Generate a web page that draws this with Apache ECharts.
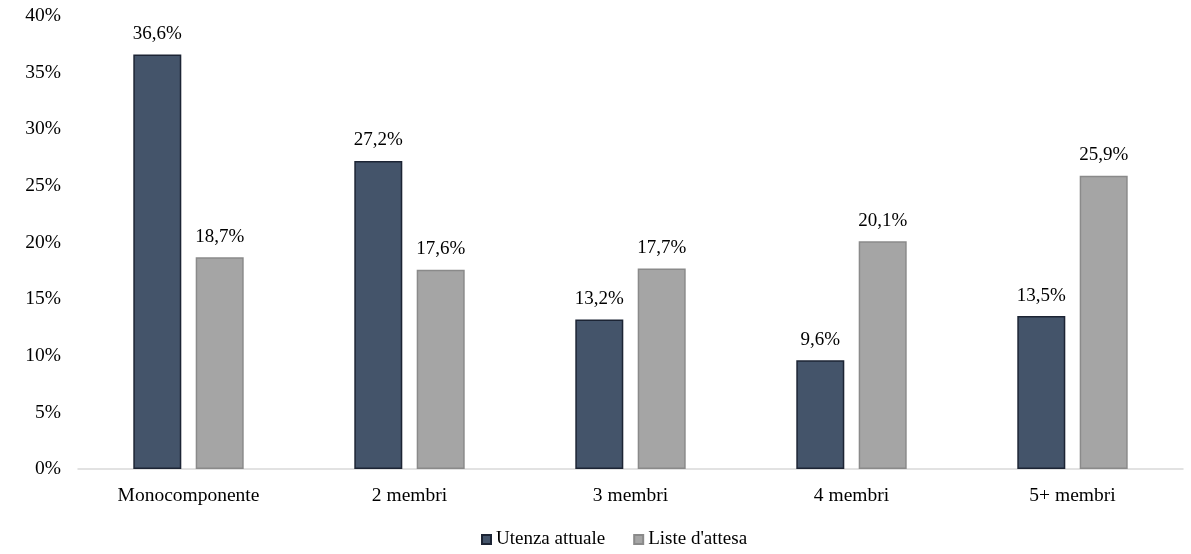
<!DOCTYPE html>
<html>
<head>
<meta charset="utf-8">
<script src="https://cdn.jsdelivr.net/npm/echarts@6/dist/echarts.min.js"></script>
<style>
  html, body { margin: 0; padding: 0; background: #fff; }
  #chart { width: 1191px; height: 554px; }
</style>
</head>
<body>
<div id="chart"></div>
<script>
var categories = ['Monocomponente', '2 membri', '3 membri', '4 membri', '5+ membri'];
var utenzaAttuale = [36.6, 27.2, 13.2, 9.6, 13.5];
var listeAttesa = [18.7, 17.6, 17.7, 20.1, 25.9];
var seriesNames = ['Utenza attuale', "Liste d'attesa"];

var serif = '"Liberation Serif", "DejaVu Serif", serif';
function pct(v) { return v.toFixed(1).replace('.', ',') + '%'; }

var chart = echarts.init(document.getElementById('chart'));
chart.setOption({
    animation: false,
    textStyle: { fontFamily: serif },
    grid: { left: 78, right: 8, top: 16, bottom: 85, containLabel: false },
    legend: {
        data: seriesNames,
        bottom: 0,
        left: 476,
        icon: 'rect',
        itemWidth: 9,
        itemHeight: 9,
        itemGap: 28,
        textStyle: { fontFamily: serif, fontSize: 19, color: '#000' }
    },
    xAxis: {
        type: 'category',
        data: categories,
        axisLine: { lineStyle: { color: '#d9d9d9', width: 1.5 } },
        axisTick: { show: false },
        axisLabel: { fontFamily: serif, fontSize: 19.5, color: '#000', margin: 17 }
    },
    yAxis: {
        type: 'value',
        min: 0,
        max: 40,
        interval: 5,
        splitLine: { show: false },
        axisLine: { show: false },
        axisTick: { show: false },
        axisLabel: { fontFamily: serif, fontSize: 19.5, color: '#000', margin: 17,
            formatter: function (v) { return v + '%'; } }
    },
    series: [{
        name: seriesNames[0],
        type: 'bar',
        data: utenzaAttuale,
        barWidth: 48,
        barGap: '30%',
        itemStyle: { color: '#44546a', borderColor: '#1c2434', borderWidth: 1.5 },
        label: { show: true, position: 'top', distance: 11, fontFamily: serif, fontSize: 19, color: '#000',
            formatter: function (p) { return pct(p.value); } }
    }, {
        name: seriesNames[1],
        type: 'bar',
        data: listeAttesa,
        barWidth: 48,
        itemStyle: { color: '#a5a5a5', borderColor: '#8a8a8a', borderWidth: 1.5 },
        label: { show: true, position: 'top', distance: 11, fontFamily: serif, fontSize: 19, color: '#000',
            formatter: function (p) { return pct(p.value); } }
    }]
});
</script>
</body>
</html>
